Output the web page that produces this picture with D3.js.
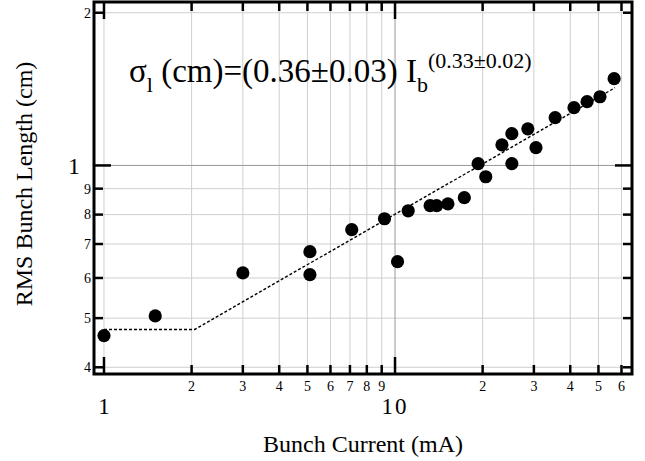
<!DOCTYPE html>
<html>
<head>
<meta charset="utf-8">
<script src="https://cdn.jsdelivr.net/npm/d3@7/dist/d3.min.js"></script>
<style>
html,body{margin:0;padding:0;background:#fff;}
svg{display:block;}
</style>
</head>
<body>
<svg id="chart" width="645" height="461"></svg>
<script>
// Data
const current = [1.0, 1.5, 3.0, 5.1, 5.1, 7.1, 9.2, 10.2, 11.1, 13.2, 13.9, 15.2, 17.3, 19.3, 20.5, 23.3, 25.2, 25.2, 28.6, 30.5, 35.5, 41.2, 45.7, 50.6, 56.6];
const bunchLength = [0.462, 0.505, 0.614, 0.676, 0.609, 0.747, 0.785, 0.646, 0.814, 0.833, 0.833, 0.840, 0.864, 1.008, 0.950, 1.098, 1.155, 1.008, 1.181, 1.084, 1.242, 1.300, 1.336, 1.366, 1.483];
const fitCurrent = [1.0, 2.05, 57];
const fitLength = [0.475, 0.475, 1.423];

const xMinorTicks = [2, 3, 4, 5, 6, 7, 8, 9, 20, 30, 40, 50, 60];
const xMinorLabels = ["2", "3", "4", "5", "6", "7", "8", "9", "2", "3", "4", "5", "6"];
const xMajorTicks = [1, 10];
const xMajorLabels = ["1", "10"];
const yMinorTicks = [0.4, 0.5, 0.6, 0.7, 0.8, 0.9, 2];
const yMinorLabels = ["4", "5", "6", "7", "8", "9", "2"];
const yMajorTicks = [1];
const yMajorLabels = ["1"];

const FONT = "'Liberation Serif', Tinos, 'Times New Roman', Times, 'DejaVu Serif', serif";

const svg = d3.select("#chart");
const L = 94, R = 632, T = 2, B = 374;
const x = d3.scaleLog().domain([0.924, 65.2]).range([L, R]);
const y = d3.scaleLog().domain([0.388, 2.10]).range([B, T]);

// grid
const g = svg.append("g");
xMinorTicks.concat([1]).forEach(v => {
  g.append("line").attr("x1", x(v)).attr("x2", x(v)).attr("y1", T).attr("y2", B)
    .attr("stroke", "#cfcfcf").attr("stroke-width", 1);
});
yMinorTicks.forEach(v => {
  g.append("line").attr("x1", L).attr("x2", R).attr("y1", y(v)).attr("y2", y(v))
    .attr("stroke", "#cfcfcf").attr("stroke-width", 1);
});
[10].forEach(v => {
  g.append("line").attr("x1", x(v)).attr("x2", x(v)).attr("y1", T).attr("y2", B)
    .attr("stroke", "#999").attr("stroke-width", 1);
});
yMajorTicks.forEach(v => {
  g.append("line").attr("x1", L).attr("x2", R).attr("y1", y(v)).attr("y2", y(v))
    .attr("stroke", "#999").attr("stroke-width", 1);
});

// fit line
const line = d3.line().x((d, i) => x(fitCurrent[i])).y((d, i) => y(fitLength[i]));
svg.append("path").datum(fitCurrent).attr("d", line)
  .attr("fill", "none").attr("stroke", "#000").attr("stroke-width", 1.4)
  .attr("stroke-dasharray", "3,2");

// points
svg.append("g").selectAll("circle").data(current).join("circle")
  .attr("cx", d => x(d)).attr("cy", (d, i) => y(bunchLength[i])).attr("r", 6.6)
  .attr("fill", "#000");

// ticks (inward on all sides)
const tk = svg.append("g").attr("stroke", "#000").attr("stroke-width", 2.5);
const minorLen = 9, majorLen = 17;
xMinorTicks.forEach(v => {
  tk.append("line").attr("x1", x(v)).attr("x2", x(v)).attr("y1", B).attr("y2", B - minorLen);
  tk.append("line").attr("x1", x(v)).attr("x2", x(v)).attr("y1", T).attr("y2", T + minorLen);
});
xMajorTicks.forEach(v => {
  tk.append("line").attr("x1", x(v)).attr("x2", x(v)).attr("y1", B).attr("y2", B - majorLen);
  tk.append("line").attr("x1", x(v)).attr("x2", x(v)).attr("y1", T).attr("y2", T + majorLen);
});
yMinorTicks.forEach(v => {
  tk.append("line").attr("x1", L).attr("x2", L + minorLen).attr("y1", y(v)).attr("y2", y(v));
  tk.append("line").attr("x1", R).attr("x2", R - minorLen).attr("y1", y(v)).attr("y2", y(v));
});
yMajorTicks.forEach(v => {
  tk.append("line").attr("x1", L).attr("x2", L + majorLen).attr("y1", y(v)).attr("y2", y(v));
  tk.append("line").attr("x1", R).attr("x2", R - majorLen).attr("y1", y(v)).attr("y2", y(v));
});

// frame
svg.append("rect").attr("x", L).attr("y", T).attr("width", R - L).attr("height", B - T)
  .attr("fill", "none").attr("stroke", "#000").attr("stroke-width", 3);

// tick labels
const lab = svg.append("g").attr("font-family", FONT).attr("fill", "#000");
xMinorTicks.forEach((v, i) => {
  lab.append("text").attr("x", x(v)).attr("y", 391).attr("text-anchor", "middle")
    .attr("font-size", 14).text(xMinorLabels[i]);
});
xMajorTicks.forEach((v, i) => {
  lab.append("text").attr("x", x(v)).attr("y", 414).attr("text-anchor", "middle")
    .attr("font-size", 23).attr("letter-spacing", xMajorLabels[i].length > 1 ? 2 : 0)
    .text(xMajorLabels[i]);
});
yMinorTicks.forEach((v, i) => {
  lab.append("text").attr("x", 91).attr("y", y(v)).attr("dy", "0.35em").attr("text-anchor", "end")
    .attr("font-size", 14).text(yMinorLabels[i]);
});
yMajorTicks.forEach((v, i) => {
  lab.append("text").attr("x", 80).attr("y", y(v)).attr("dy", "0.35em").attr("text-anchor", "end")
    .attr("font-size", 24).text(yMajorLabels[i]);
});

// axis titles
svg.append("text").attr("font-family", FONT).attr("x", 363).attr("y", 452).attr("text-anchor", "middle")
  .attr("font-size", 24).text("Bunch Current (mA)");
svg.append("text").attr("font-family", FONT).attr("transform", "translate(32,184) rotate(-90)").attr("text-anchor", "middle")
  .attr("font-size", 24).text("RMS Bunch Length (cm)");

// annotation
const ann = svg.append("text").attr("font-family", FONT).attr("x", 129).attr("y", 82).attr("font-size", 33);
ann.append("tspan").text("σ");
ann.append("tspan").attr("font-size", 22).attr("dy", 10).text("l");
ann.append("tspan").attr("dy", -10).text(" (cm)=(0.36±0.03) I");
ann.append("tspan").attr("font-size", 22).attr("dy", 10).text("b");
ann.append("tspan").attr("font-size", 22).attr("dy", -24).text("(0.33±0.02)");
</script>
</body>
</html>
